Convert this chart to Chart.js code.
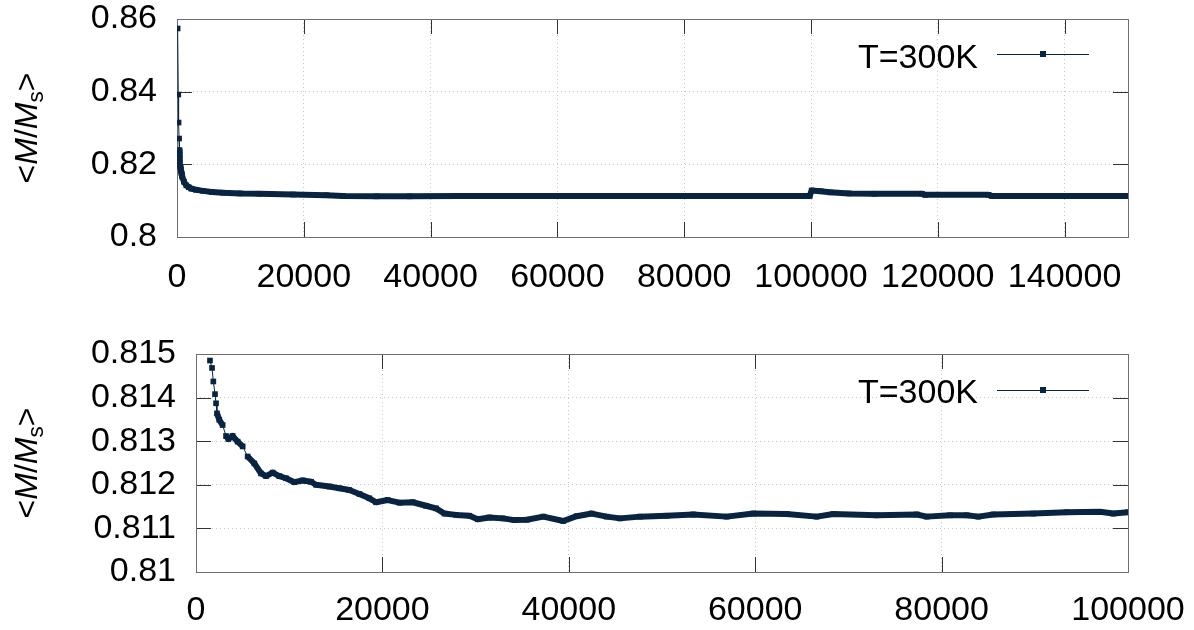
<!DOCTYPE html>
<html>
<head>
<meta charset="utf-8">
<script src="https://cdn.jsdelivr.net/npm/chart.js@4/dist/chart.umd.min.js"></script>
<style>
  html, body { margin: 0; padding: 0; background: #fff; }
  body { width: 1194px; height: 630px; position: relative; overflow: hidden; }
  .pane { position: absolute; left: 0; width: 1194px; height: 315px; }
  .ytitle { position: absolute; font-family: "Liberation Sans", Arial, sans-serif; font-size: 32px; color: #000;
            white-space: nowrap; transform: translate(-50%, -50%) rotate(-90deg); line-height: 1; }
  .ytitle sub { font-size: 70%; vertical-align: -0.25em; line-height: 0; font-style: normal; }
  .legtext { position: absolute; left: 780px; width: 198px; text-align: right; font-family: "Liberation Sans", Arial, sans-serif;
             font-size: 34px; line-height: 34px; color: #000; }
  .legline { position: absolute; left: 997px; width: 92px; height: 1px; background: #082440; }
  .legmark { position: absolute; left: 1040px; width: 6px; height: 6px; background: #082440; }
</style>
</head>
<body>
<div class="pane" style="top:0"><canvas id="c1" width="1194" height="315"></canvas></div>
<div class="pane" style="top:315px"><canvas id="c2" width="1194" height="315"></canvas></div>

<div class="ytitle" style="left:26px; top:128px;">&lt;<i>M</i>/<i>M</i><sub>s</sub>&gt;</div>
<div class="ytitle" style="left:26px; top:463px;">&lt;<i>M</i>/<i>M</i><sub>s</sub>&gt;</div>

<div class="legtext" style="top:39px">T=300K</div>
<div class="legline" style="top:54px"></div>
<div class="legmark" style="top:51px"></div>

<div class="legtext" style="top:374px">T=300K</div>
<div class="legline" style="top:390px"></div>
<div class="legmark" style="top:387px"></div>

<script>
// ---------- data ----------
const seriesName = "T=300K";

// top panel: full run
const topSteps = [100, 200, 250, 330, 380, 400, 420, 440, 520, 600, 680, 760, 840, 1100, 1470, 1850, 2260, 3000, 4100, 5500, 7260, 10000, 13030, 18300, 23550, 26180, 31440, 36690, 44580, 50000, 60000, 70000, 80000, 90000, 99800, 100100, 101500, 103000, 106000, 110000, 117500, 118000, 128000, 128500, 140000, 150000];
const topM = [0.8574, 0.8392, 0.8315, 0.8271, 0.8239, 0.8227, 0.8216, 0.8202, 0.8193, 0.8185, 0.8177, 0.8170, 0.8165, 0.8152, 0.8142, 0.8137, 0.8133, 0.8130, 0.8127, 0.8124, 0.8122, 0.8120, 0.8119, 0.8117, 0.8115, 0.8113, 0.8112, 0.8112, 0.8113, 0.8113, 0.8113, 0.8113, 0.8113, 0.8113, 0.8113, 0.8128, 0.8126, 0.8123, 0.8120, 0.8119, 0.8119, 0.8116, 0.8116, 0.8113, 0.8113, 0.8113];

// bottom panel: zoom on the first 100000 steps
const botSteps = [1500, 1720, 1860, 2040, 2150, 2250, 2500, 2860, 3220, 3470, 3930, 4470, 5010, 5540, 6260, 6980, 7510, 8230, 8940, 9660, 10550, 11450, 12340, 12880, 14310, 15380, 16450, 17530, 18600, 19320, 20570, 21820, 23250, 24680, 25750, 26650, 27900, 29330, 30230, 31480, 32910, 34160, 35500, 37270, 39410, 40850, 42460, 44070, 45490, 47640, 50500, 53360, 56940, 59800, 63380, 66600, 68380, 73030, 77330, 78400, 80900, 82690, 83940, 85550, 89840, 93420, 96990, 98420, 100000];
const botM = [0.81485, 0.81468, 0.81437, 0.81408, 0.81387, 0.81364, 0.81349, 0.81337, 0.81312, 0.81305, 0.81312, 0.81299, 0.81288, 0.81265, 0.81249, 0.81226, 0.81220, 0.81228, 0.81220, 0.81215, 0.81206, 0.81210, 0.81207, 0.81200, 0.81196, 0.81192, 0.81188, 0.81179, 0.81169, 0.81160, 0.81165, 0.81159, 0.81160, 0.81152, 0.81146, 0.81134, 0.81131, 0.81129, 0.81121, 0.81125, 0.81123, 0.81119, 0.81120, 0.81127, 0.81117, 0.81128, 0.81134, 0.81127, 0.81123, 0.81127, 0.81129, 0.81132, 0.81127, 0.81134, 0.81133, 0.81127, 0.81133, 0.81130, 0.81132, 0.81127, 0.81130, 0.81130, 0.81127, 0.81132, 0.81134, 0.81137, 0.81138, 0.81134, 0.81137];

const topXTicks = [0, 20000, 40000, 60000, 80000, 100000, 120000, 140000];
const topXLabels = ["0", "20000", "40000", "60000", "80000", "100000", "120000", "140000"];
const topYTicks = [0.80, 0.82, 0.84, 0.86];
const topYLabels = ["0.8", "0.82", "0.84", "0.86"];

const botXTicks = [0, 20000, 40000, 60000, 80000, 100000];
const botXLabels = ["0", "20000", "40000", "60000", "80000", "100000"];
const botYTicks = [0.810, 0.811, 0.812, 0.813, 0.814, 0.815];
const botYLabels = ["0.81", "0.811", "0.812", "0.813", "0.814", "0.815"];

// ---------- drawing ----------
const LINE_COLOR = '#082440';
const FONT = { family: 'Liberation Sans', size: 34 };

const frameTicks = {
  id: 'frameTicks',
  beforeDatasetsDraw(chart) {
    const { ctx, chartArea: a, scales: { x, y } } = chart;
    ctx.save();
    ctx.lineWidth = 1;
    ctx.strokeStyle = '#333';
    const L = 15;
    const seg = (x1, y1, x2, y2) => { ctx.beginPath(); ctx.moveTo(x1, y1); ctx.lineTo(x2, y2); ctx.stroke(); };
    x.ticks.forEach(t => {
      const px = Math.round(x.getPixelForValue(t.value)) + 0.5;
      seg(px, a.bottom, px, a.bottom - L);
      seg(px, a.top, px, a.top + L);
    });
    y.ticks.forEach(t => {
      const py = Math.round(y.getPixelForValue(t.value)) + 0.5;
      seg(a.left, py, a.left + L, py);
      seg(a.right, py, a.right - L, py);
    });
    ctx.strokeStyle = '#6e6e6e';
    ctx.strokeRect(Math.round(a.left) + 0.5, Math.round(a.top) + 0.5, Math.round(a.right - a.left), Math.round(a.bottom - a.top));
    ctx.restore();
  }
};

function makeChart(id, xs, ys, xMin, xMax, xTicks, xLabels, yMin, yMax, yTicks, yLabels, padTop, yWidth, xHeight, xPad) {
  const pts = xs.map((v, i) => ({ x: v, y: ys[i] }));
  return new Chart(document.getElementById(id), {
    type: 'line',
    data: {
      datasets: [{
        label: seriesName,
        data: pts,
        borderColor: LINE_COLOR,
        backgroundColor: LINE_COLOR,
        borderWidth: 6,
        borderJoinStyle: 'round',
        borderCapStyle: 'butt',
        pointStyle: 'rect',
        pointRadius: 4,
        pointBorderWidth: 0,
        pointBackgroundColor: LINE_COLOR,
        tension: 0,
        segment: {
          borderWidth: c => {
            const dx = Math.abs(c.p1.x - c.p0.x), dy = Math.abs(c.p1.y - c.p0.y);
            return (dy > 7 && dy > 2 * dx) ? 1 : 6;
          }
        }
      }]
    },
    options: {
      responsive: false,
      animation: false,
      devicePixelRatio: 1,
      events: [],
      layout: { padding: { top: padTop, right: 66, left: 0, bottom: 0 } },
      plugins: { legend: { display: false }, tooltip: { enabled: false } },
      scales: {
        x: {
          type: 'linear', min: xMin, max: xMax,
          afterBuildTicks: s => { s.ticks = xTicks.map(v => ({ value: v })); },
          afterFit: s => { s.height = xHeight; s.paddingLeft = 0; s.paddingRight = 0; },
          ticks: { font: FONT, color: '#000', padding: xPad, maxRotation: 0, autoSkip: false,
                   callback: (v) => { const i = xTicks.indexOf(v); return i >= 0 ? xLabels[i] : ''; } },
          grid: { color: '#c9c9c9', lineWidth: 1, drawTicks: false },
          border: { display: false, dash: [1, 3] }
        },
        y: {
          type: 'linear', min: yMin, max: yMax,
          afterBuildTicks: s => { s.ticks = yTicks.map(v => ({ value: v })); },
          afterFit: s => { s.width = yWidth; s.paddingTop = 0; s.paddingBottom = 0; },
          ticks: { font: FONT, color: '#000', padding: 20, autoSkip: false,
                   callback: (v) => { const i = yTicks.findIndex(t => Math.abs(t - v) < 1e-9); return i >= 0 ? yLabels[i] : ''; } },
          grid: { color: '#c9c9c9', lineWidth: 1, drawTicks: false },
          border: { display: false, dash: [1, 3] }
        }
      }
    },
    plugins: [frameTicks]
  });
}

makeChart('c1', topSteps, topM, 0, 150000, topXTicks, topXLabels, 0.80, 0.86, topYTicks, topYLabels, 19, 177, 78, 20);
makeChart('c2', botSteps, botM, 0, 100000, botXTicks, botXLabels, 0.810, 0.815, botYTicks, botYLabels, 39, 196, 58, 18);
</script>
</body>
</html>
